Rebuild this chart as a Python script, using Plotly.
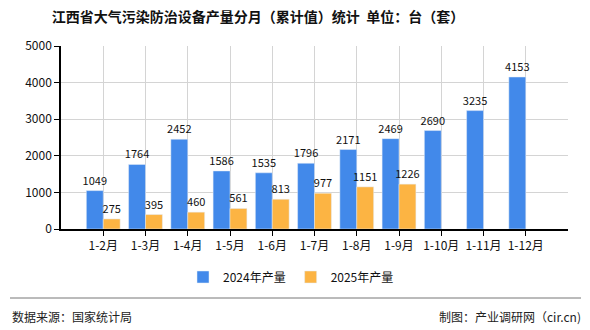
import plotly.graph_objects as go

categories = ["1-2月", "1-3月", "1-4月", "1-5月", "1-6月", "1-7月", "1-8月", "1-9月", "1-10月", "1-11月", "1-12月"]
values_2024 = [1049, 1764, 2452, 1586, 1535, 1796, 2171, 2469, 2690, 3235, 4153]
values_2025 = [275, 395, 460, 561, 813, 977, 1151, 1226]
series_names = ["2024年产量", "2025年产量"]
title_text = "江西省大气污染防治设备产量分月（累计值）统计  单位：台（套）"
source_text = "数据来源：国家统计局"
credit_text = "制图：产业调研网（cir.cn)"

FONT = "Noto Sans CJK SC"
x_idx = list(range(len(categories)))

fig = go.Figure()
fig.add_trace(go.Bar(
    x=x_idx, y=values_2024, name=series_names[0], marker_color="#4289EA",
    text=[str(v) for v in values_2024], textposition="outside", textangle=0,
    textfont=dict(size=11, color="#111", family=FONT), cliponaxis=False,
))
fig.add_trace(go.Bar(
    x=x_idx[:len(values_2025)], y=values_2025, name=series_names[1], marker_color="#FCB443",
    text=[str(v) for v in values_2025], textposition="outside", textangle=0,
    textfont=dict(size=11, color="#111", family=FONT), cliponaxis=False,
))

L, R, T, B = 61, 22, 46, 101
W, H = 590, 330
pw, ph = W - L - R, H - T - B

def px_x(p):
    return (p - L) / pw

def px_y(p):
    return (H - B - p) / ph

fig.update_layout(
    width=W, height=H,
    margin=dict(l=L, r=R, t=T, b=B),
    paper_bgcolor="white", plot_bgcolor="white",
    barmode="group", bargap=0.2, bargroupgap=0,
    uniformtext=dict(minsize=11, mode="show"),
    font=dict(family=FONT, size=12, color="#222"),
    title=dict(text=title_text, xref="container", yref="container",
               x=258 / W, y=1 - 17 / H, xanchor="center", yanchor="middle",
               font=dict(size=14, color="#111", family=FONT, weight="bold")),
    showlegend=True,
    legend=dict(orientation="h", x=px_x(291), y=px_y(277), xanchor="center", yanchor="middle",
                font=dict(size=12, color="#111", family=FONT), itemwidth=30,
                traceorder="normal"),
    xaxis=dict(range=[-1, len(categories)], tickmode="array", tickvals=x_idx, ticktext=categories,
               showgrid=True, gridcolor="#d4d4d4", gridwidth=1,
               showline=True, linecolor="#000", linewidth=1.5,
               ticks="outside", ticklen=5, tickcolor="#000",
               tickfont=dict(size=12, color="#111", family=FONT), fixedrange=True),
    yaxis=dict(range=[0, 5000], dtick=1000, showgrid=True, gridcolor="#d4d4d4", gridwidth=1,
               showline=True, linecolor="#000", linewidth=1.5,
               ticks="outside", ticklen=5, tickcolor="#000",
               tickfont=dict(size=12, color="#111", family=FONT), zeroline=False),
)

fig.add_shape(type="line", xref="paper", yref="paper",
              x0=px_x(10), x1=px_x(581), y0=px_y(298), y1=px_y(298),
              line=dict(color="#777", width=1))
fig.add_annotation(text=source_text, xref="paper", yref="paper", x=px_x(10), y=px_y(316),
                   xanchor="left", yanchor="middle", showarrow=False,
                   font=dict(size=12, color="#222", family=FONT))
fig.add_annotation(text=credit_text, xref="paper", yref="paper", x=px_x(583), y=px_y(316),
                   xanchor="right", yanchor="middle", showarrow=False,
                   font=dict(size=12, color="#222", family=FONT))

fig.write_html("out.html")
